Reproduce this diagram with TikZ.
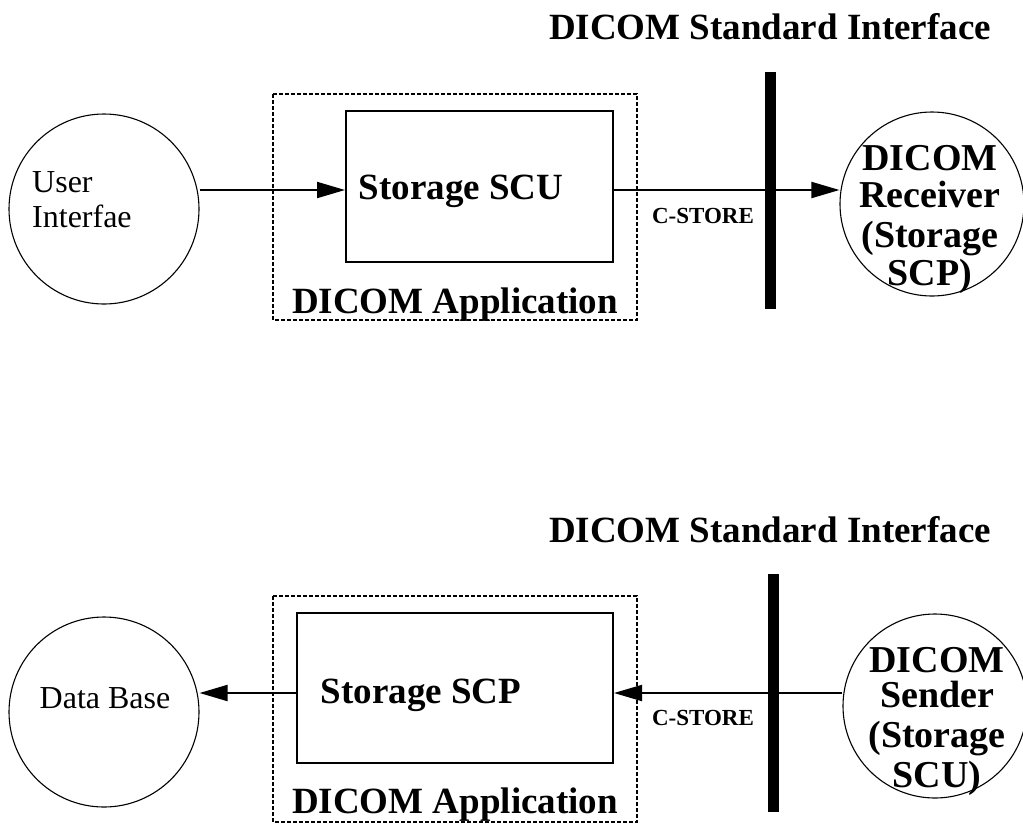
\documentclass[tikz,border=0pt]{standalone}
\usepackage{fontspec}
\setmainfont{Liberation Serif}
\usetikzlibrary{arrows.meta}
\begin{document}
\begin{tikzpicture}[x=1pt,y=-1pt,
  circ/.style={draw,circle,line width=1.1pt,minimum size=190pt,inner sep=0pt},
  boxs/.style={draw,line width=2pt},
  dbox/.style={draw,line width=1.3pt,dash pattern=on 4pt off 2pt},
  bar/.style={fill=black},
  conn/.style={line width=2pt,-{Triangle[length=28pt,width=16pt]}},
  big/.style={font=\fontsize{37}{40}\selectfont\bfseries,inner sep=0pt,anchor=base},
  mid/.style={font=\fontsize{38}{40}\selectfont\bfseries,inner sep=0pt,anchor=base},
  small/.style={font=\fontsize{23}{26}\selectfont\bfseries,inner sep=0pt,anchor=base},
  reg/.style={font=\fontsize{32}{35}\selectfont,inner sep=0pt,anchor=base},
]
\useasboundingbox (0,0) rectangle (1023,823);
% ---------- top ----------
\node[big] (t1) at (770,39) {DICOM Standard Interface};
\node[circ] (ui) at (104,209) {};
\node[reg,anchor=base west] (ui1) at (32,192) {User};
\node[reg,anchor=base west] (ui2) at (32,227) {Interfae};
\draw[dbox] (273,94) rectangle (637,320);
\node[boxs,minimum width=267pt,minimum height=151pt,inner sep=0pt] (scu) at (479.5,186.5) {};
\node[big] (scut) at (461,199) {Storage SCU};
\node[big] (app1) at (455,313) {DICOM Application};
\node[bar,minimum width=11pt,minimum height=237pt,inner sep=0pt] (bar1) at (770.5,190.5) {};
\node[circ,minimum size=184pt] (rcv) at (932,204) {};
\node[mid] at (930,170) {DICOM};
\node[mid] at (930,207) {Receiver};
\node[mid] at (930,247) {(Storage};
\node[mid] at (930,285) {SCP)};
\node[small] (cs1) at (703,223) {C-STORE};
\draw[conn] (ui.east |- 0,190) -- (scu.west |- 0,190);
\draw[conn] (scu.east |- 0,190) -- (rcv.west |- 0,190);
% ---------- bottom ----------
\node[big] (t2) at (770,542) {DICOM Standard Interface};
\node[circ] (db) at (104,712) {};
\node[reg] (dbt) at (105,708) {Data Base};
\draw[dbox] (273,596) rectangle (637,822);
\node[boxs,minimum width=316pt,minimum height=150pt,inner sep=0pt] (scp) at (455,688) {};
\node[big] (scpt) at (421,703) {Storage SCP};
\node[big] (app2) at (455,813) {DICOM Application};
\node[bar,minimum width=11pt,minimum height=238pt,inner sep=0pt] (bar2) at (773.5,693) {};
\node[circ,minimum size=184pt] (snd) at (935,706) {};
\node[mid] at (937,672) {DICOM};
\node[mid] at (937,707) {Sender};
\node[mid] at (937,747) {(Storage};
\node[mid] at (937,787) {SCU)};
\node[small] (cs2) at (703,725) {C-STORE};
\draw[conn] (scp.west |- 0,693) -- (db.east |- 0,693);
\draw[conn] (snd.west |- 0,693) -- (scp.east |- 0,693);
\end{tikzpicture}
\end{document}
